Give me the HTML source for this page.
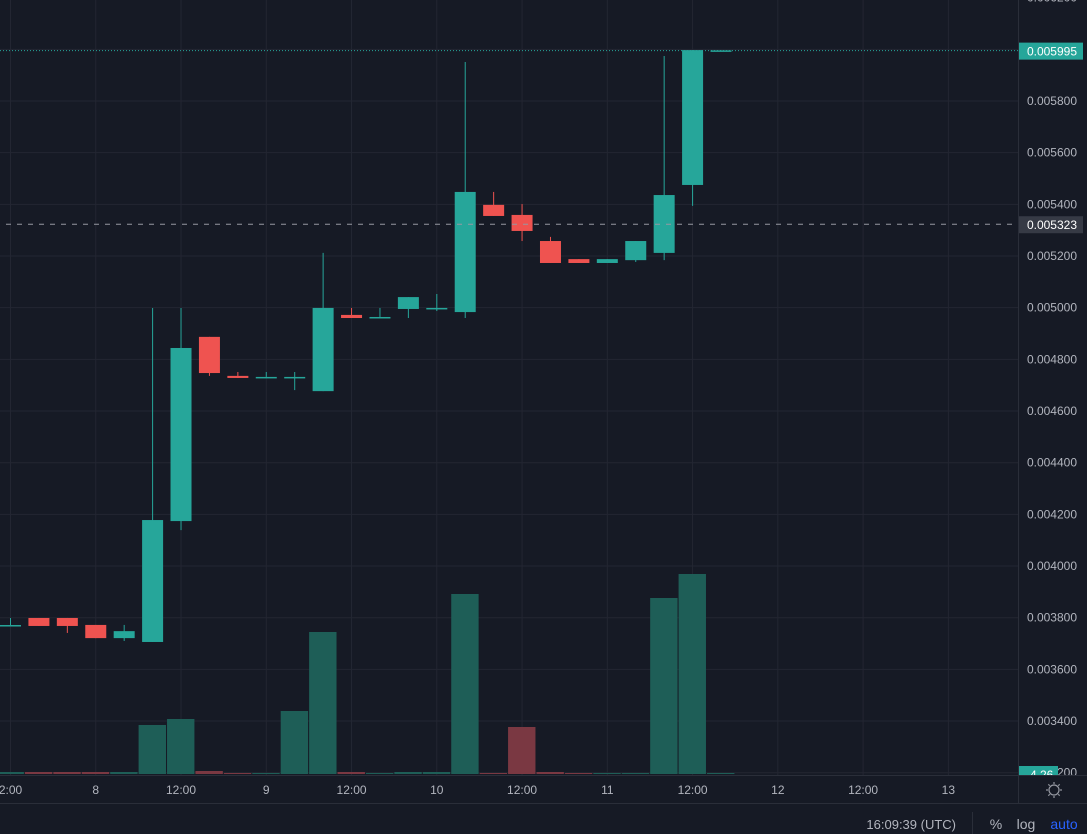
<!DOCTYPE html>
<html><head><meta charset="utf-8"><style>
html,body{margin:0;padding:0;background:#161a25;width:1087px;height:834px;overflow:hidden;font-family:"Liberation Sans",sans-serif}
svg text{font-family:"Liberation Sans",sans-serif}
</style></head><body>
<svg id="chart" width="1087" height="834" xmlns="http://www.w3.org/2000/svg">
<rect x="0" y="0" width="1087" height="834" fill="#161a25"/>
<g id="grid"></g>
<g id="vol"></g>
<g id="candles"></g>
<g id="lines"></g>
<g id="axis"></g>
<g id="taxis"></g>
</svg>
<script>
const opens  =[0.0037717,0.003799,0.003799,0.003772,0.003721,0.003706,0.004174,0.004887,0.004736,0.004732,0.004732,0.004677,0.004972,0.004964,0.004995,0.004999,0.004983,0.005398,0.005359,0.005258,0.005188,0.005173,0.005184,0.005212,0.005475,0.005995];
const closes =[0.0037717,0.003768,0.003768,0.003721,0.003748,0.004178,0.004844,0.004747,0.004728,0.004732,0.004732,0.004999,0.004960,0.004964,0.005041,0.004999,0.005448,0.005355,0.005297,0.005173,0.005173,0.005188,0.005258,0.005436,0.005997,0.005996];
const highs  =[0.0037988,0.003799,0.003799,0.003772,0.003772,0.004999,0.004999,0.004887,0.004751,0.004751,0.004751,0.005212,0.004999,0.004999,0.005041,0.005053,0.005951,0.005448,0.005401,0.005274,0.005188,0.005188,0.005258,0.005974,0.005997,0.005996];
const lows   =[0.0037717,0.003768,0.003741,0.003721,0.003710,0.003706,0.004139,0.004736,0.004728,0.004732,0.004681,0.004677,0.004960,0.004964,0.004960,0.004987,0.004960,0.005355,0.005258,0.005173,0.005173,0.005173,0.005177,0.005184,0.005394,0.005995];
const volumes=[2,2,2,2,2,49,55,3,1,1,63,142,2,1,2,2,180,1,47,2,1,1,1,176,200,1];
const priceTicks=[0.0062,0.0060,0.0058,0.0056,0.0054,0.0052,0.0050,0.0048,0.0046,0.0044,0.0042,0.0040,0.0038,0.0036,0.0034,0.0032];
const timeLabels=["2:00","8","12:00","9","12:00","10","12:00","11","12:00","12","12:00","13"];
const lastPrice=0.005995, markPrice=0.005323;

const NS="http://www.w3.org/2000/svg";
function el(tag,attrs,parent,text){const e=document.createElementNS(NS,tag);for(const k in attrs)e.setAttribute(k,attrs[k]);if(text!==undefined)e.textContent=text;parent.appendChild(e);return e;}
const y=v=>101+(0.0058-v)/0.0002*51.67;
const x=i=>10.5+i*28.42;
const volBase=774, volScale=1;
const tx=j=>10.5+j*85.26;
const G=document.getElementById('grid'),V=document.getElementById('vol'),C=document.getElementById('candles'),L=document.getElementById('lines'),A=document.getElementById('axis'),T=document.getElementById('taxis');

priceTicks.forEach(p=>{
 const g=el('line',{x1:0,x2:1018,y1:y(p),y2:y(p),stroke:'#232632','stroke-width':1},G);
 
 
});
timeLabels.forEach((t,j)=>{
 const g=el('line',{x1:tx(j),x2:tx(j),y1:0,y2:775,stroke:'#232632','stroke-width':1},G);
 
 
});

volumes.forEach((v,i)=>{
 const up=closes[i]>=opens[i];
 const r=el('rect',{x:x(i)-14,y:volBase-v*volScale,width:27.4,height:v*volScale,fill:up?'#1e5e57':'#7a3842'},V);
 
 
});

opens.forEach((o,i)=>{
 const c=closes[i],up=c>=o,col=up?'#26a69a':'#ef5350';
 const w=el('line',{x1:x(i),x2:x(i),y1:y(highs[i]),y2:y(lows[i]),stroke:col,'stroke-width':1},C);
 
 
 const top=y(Math.max(o,c)),h=Math.max(1.5,Math.abs(y(o)-y(c)));
 const b=el('rect',{x:x(i)-10.5,y:top,width:21,height:h,fill:col},C);
 
 
});

const lp=el('line',{x1:0,x2:1018,y1:y(lastPrice),y2:y(lastPrice),stroke:'#26a69a','stroke-width':1,'stroke-dasharray':'1,2'},L);


const mp=el('line',{x1:6,x2:1018,y1:y(markPrice),y2:y(markPrice),stroke:'#9598a1','stroke-width':1,'stroke-dasharray':'5,6'},L);



el('rect',{x:1018,y:0,width:69,height:834,fill:'#161a25'},A);
el('line',{x1:1018.5,x2:1018.5,y1:0,y2:834,stroke:'#2a2e39'},A);
priceTicks.forEach(p=>{
 const t=el('text',{x:1077,y:y(p)+4,fill:'#b2b5be','font-size':12,'text-anchor':'end'},A,p.toFixed(6));
 
 
});
const lb=el('rect',{x:1019,y:y(lastPrice)-8,width:64,height:17,fill:'#26a69a'},A);


el('text',{x:1077,y:y(lastPrice)+5,fill:'#ffffff','font-size':12,'text-anchor':'end'},A,lastPrice.toFixed(6));
const mb=el('rect',{x:1019,y:y(markPrice)-8,width:64,height:17,fill:'#363a45'},A);


el('text',{x:1077,y:y(markPrice)+5,fill:'#ffffff','font-size':12,'text-anchor':'end'},A,markPrice.toFixed(6));
const vb=el('rect',{x:1019,y:766,width:39,height:9,fill:'#26a69a'},A);


el('text',{x:1030,y:779,fill:'#ffffff','font-size':12},A,'4.26');

el('rect',{x:0,y:776,width:1087,height:58,fill:'#161a25'},T);
el('line',{x1:0,x2:1087,y1:775.5,y2:775.5,stroke:'#2a2e39'},T);
el('line',{x1:0,x2:1087,y1:803.5,y2:803.5,stroke:'#2a2e39'},T);
el('line',{x1:1018.5,x2:1018.5,y1:776,y2:803,stroke:'#2a2e39'},T);
timeLabels.forEach((t,j)=>{
 const e=el('text',{x:tx(j),y:794,fill:'#b2b5be','font-size':12,'text-anchor':'middle'},T,t);
 
 
});
const gear=el('g',{},T);


el('circle',{cx:1054,cy:790,r:5,fill:'none',stroke:'#9598a1','stroke-width':1.2},gear);
for(let k=0;k<8;k++){const a=k*Math.PI/4;el('line',{x1:1054+6*Math.cos(a),y1:790+6*Math.sin(a),x2:1054+8*Math.cos(a),y2:790+8*Math.sin(a),stroke:'#9598a1','stroke-width':1.2},gear);}
const clk=el('text',{x:956,y:829,fill:'#b2b5be','font-size':13,'text-anchor':'end'},T,'16:09:39 (UTC)');


el('line',{x1:972.5,x2:972.5,y1:812,y2:834,stroke:'#2a2e39'},T);
const pct=el('text',{x:996,y:829,fill:'#b2b5be','font-size':14,'text-anchor':'middle'},T,'%');


const lg=el('text',{x:1026,y:829,fill:'#b2b5be','font-size':14,'text-anchor':'middle'},T,'log');


const au=el('text',{x:1064,y:829,fill:'#2962ff','font-size':14,'text-anchor':'middle'},T,'auto');


</script>
</body></html>
